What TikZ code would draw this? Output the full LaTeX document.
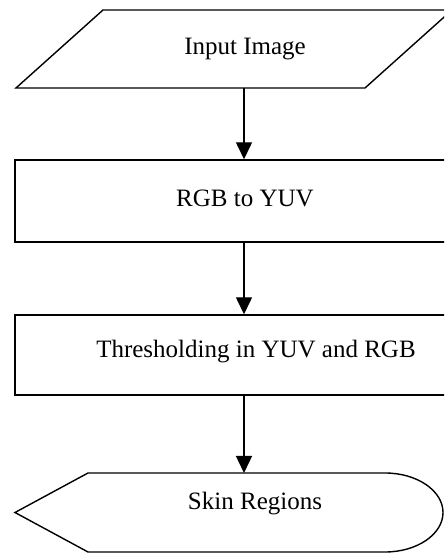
\documentclass[tikz,border=0pt]{standalone}
\usepackage{fontspec}
\setmainfont{Liberation Serif}
\usetikzlibrary{arrows.meta}
\begin{document}
\begin{tikzpicture}[x=1pt,y=1pt,
  shapeline/.style={draw=black,line width=1.4pt},
  boxshape/.style={shapeline,rectangle,inner sep=0pt,minimum width=458pt},
  lbl/.style={font=\fontsize{25}{28}\selectfont,anchor=base,inner sep=0pt},
  arr/.style={draw=black,line width=1.4pt,-{Triangle[length=17pt,width=16pt]}}]
\useasboundingbox (0,0) rectangle (444,553);
\clip (0,0) rectangle (444,553);
% Input Image (parallelogram)
\draw[shapeline] (16,465) coordinate (inbl) -- (365,465) -- (452,543) -- (103,543) -- cycle;
\coordinate (inbot) at (244,465);
\node[lbl] (intxt) at (245,498) {Input Image};
% RGB to YUV
\node[boxshape,minimum height=82pt] (rgb) at (244,352) {};
\node[lbl] (rgbtxt) at (245,346) {RGB to YUV};
% Thresholding
\node[boxshape,minimum height=80pt] (thr) at (244,198) {};
\node[lbl] (thrtxt) at (256,195) {Thresholding in YUV and RGB};
% Skin Regions (display shape)
\draw[shapeline] (15,40.5) -- (88,80) -- (385,80)
  arc[start angle=90,end angle=-90,x radius=58,y radius=39.5]
  -- (88,1) -- cycle;
\coordinate (skintop) at (244,80);
\node[lbl] (skintxt) at (255,43) {Skin Regions};
% connectors
\draw[arr] (inbot) -- (rgb.north);
\draw[arr] (rgb.south) -- (thr.north);
\draw[arr] (thr.south) -- (skintop);
\end{tikzpicture}
\end{document}
